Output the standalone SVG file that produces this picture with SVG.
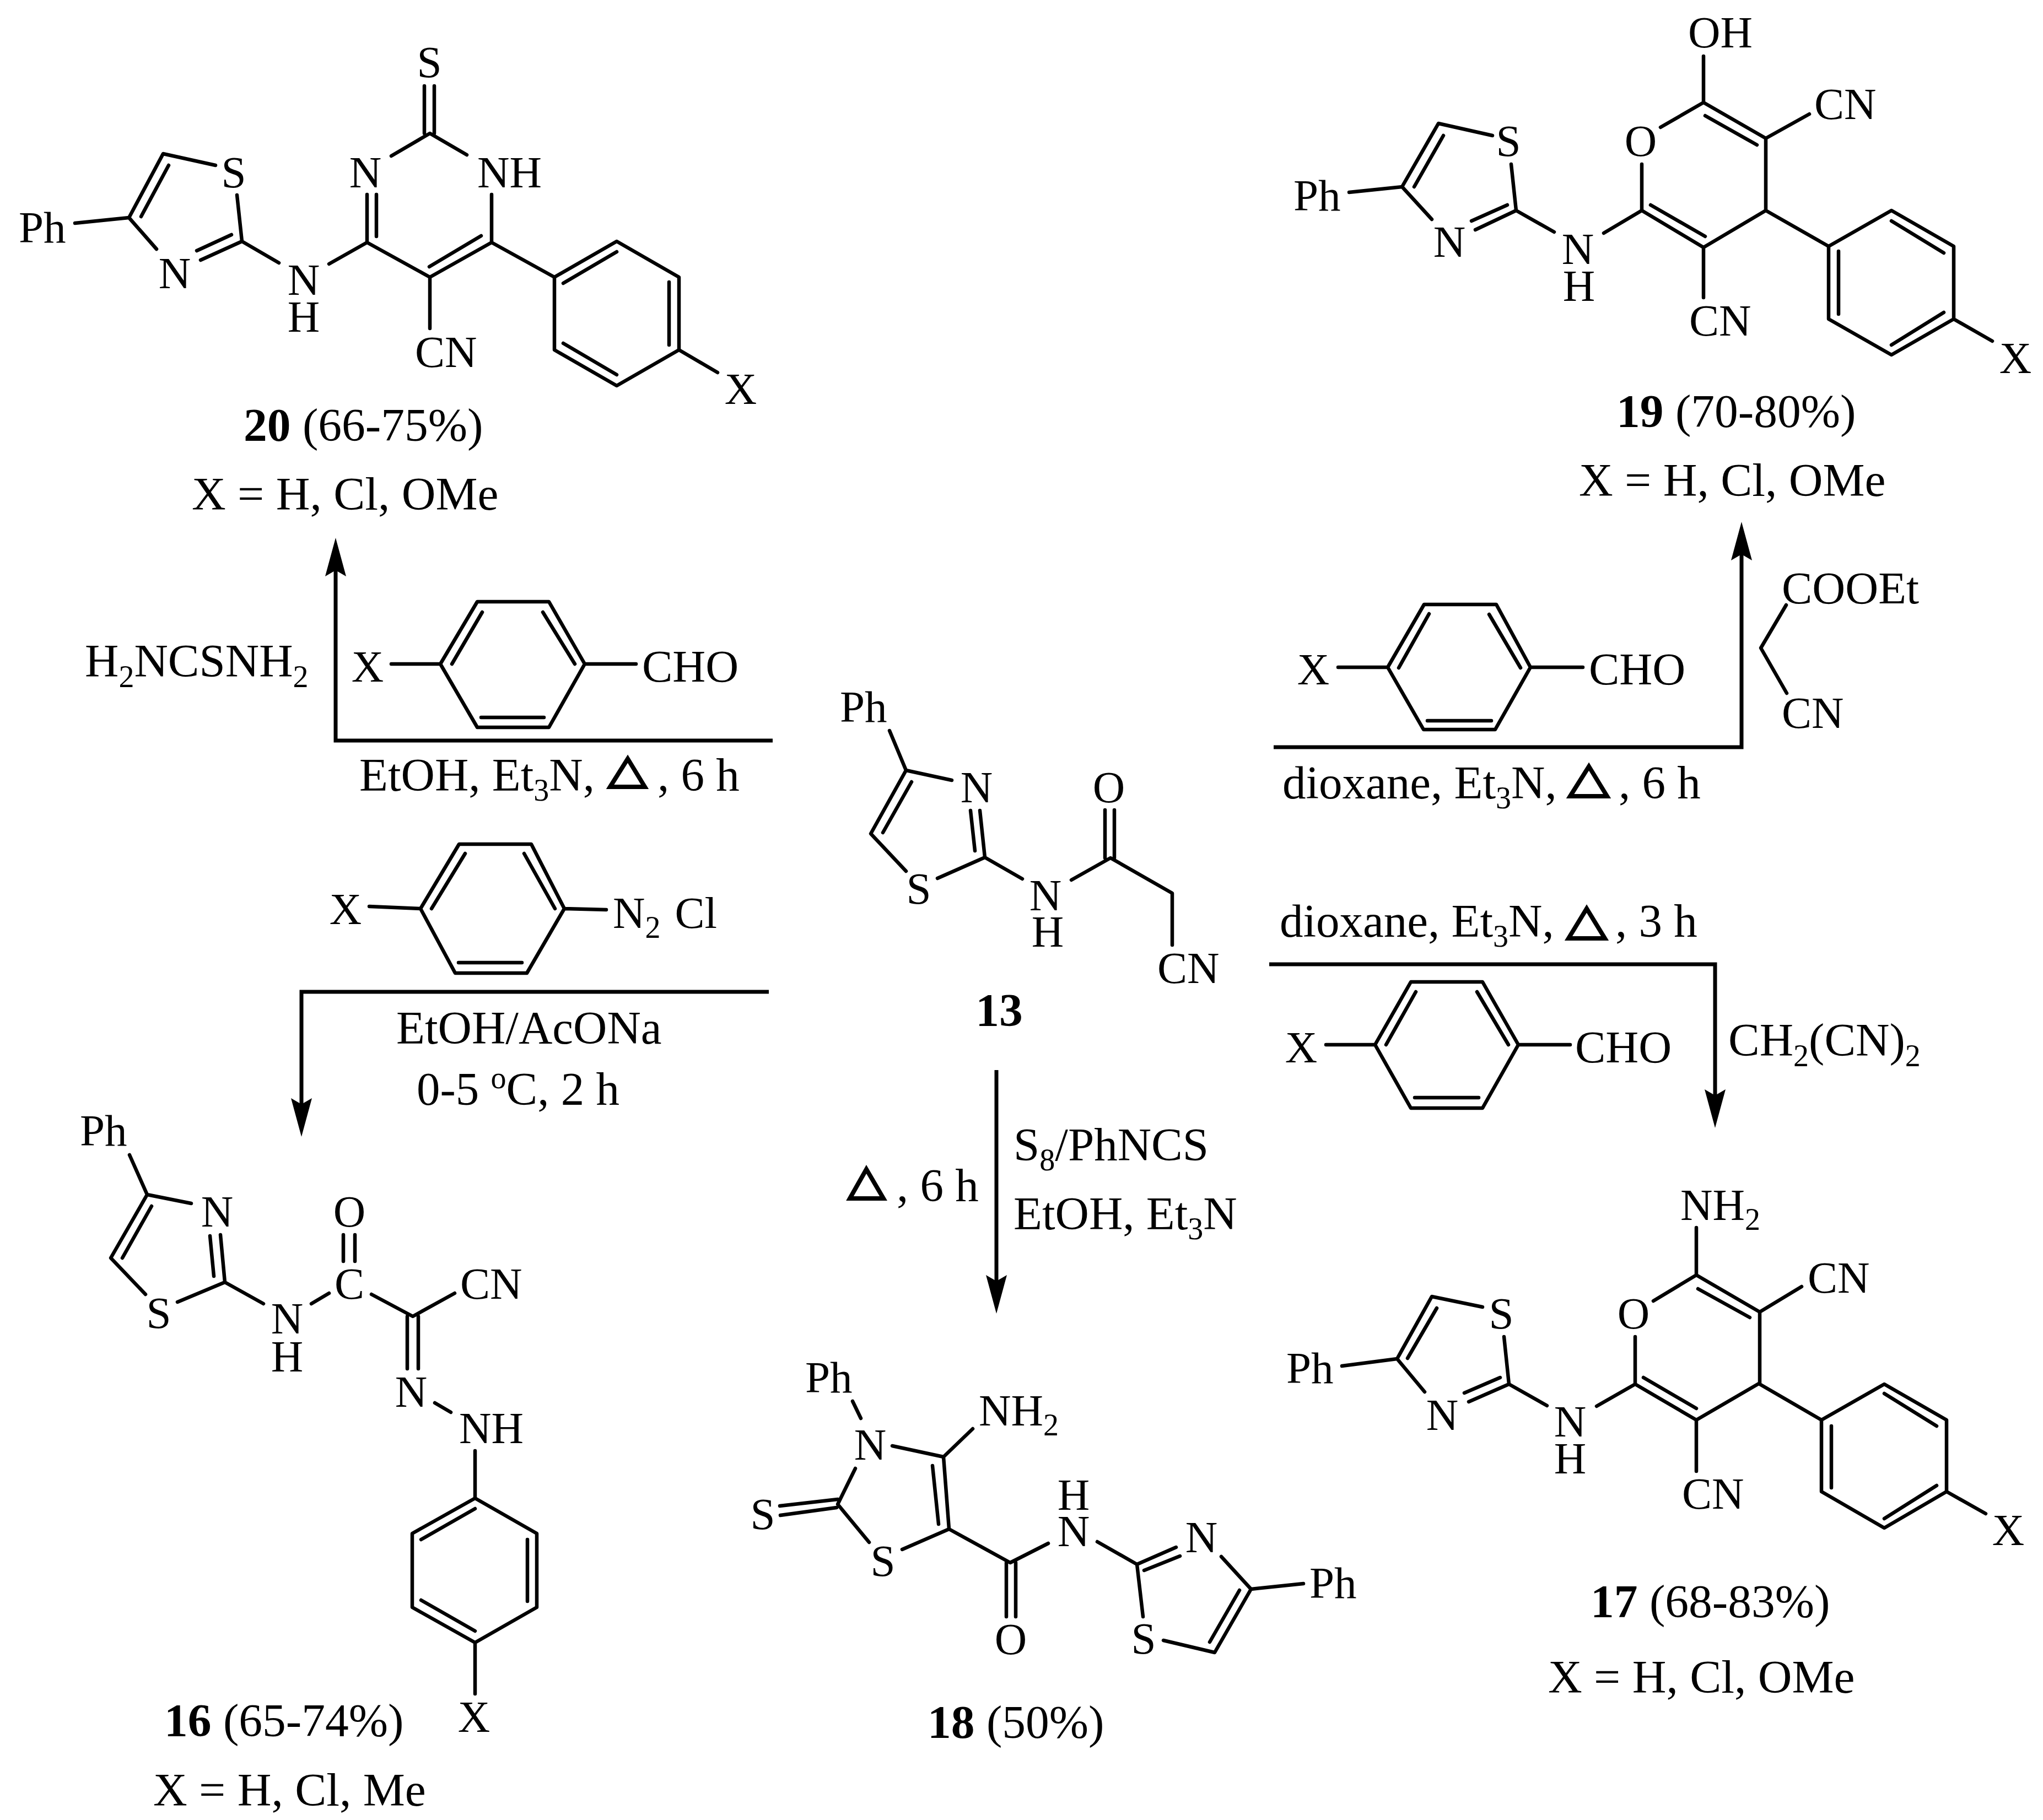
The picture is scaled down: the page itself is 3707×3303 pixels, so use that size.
<svg xmlns="http://www.w3.org/2000/svg" width="3707" height="3303" viewBox="0 0 3707 3303">
<style>
text{font-family:"Liberation Serif","Times New Roman",serif;fill:#000}
.a{font-size:81px}
.l{font-size:83px}
.c{font-size:85.5px}
.r{font-size:85px}
.m{text-anchor:middle}
.h{font-weight:bold}
.s{font-size:56px}
.b{fill:none;stroke:#000;stroke-width:6.5;stroke-linecap:round;stroke-linejoin:round}
.t{fill:none;stroke:#000;stroke-width:8;stroke-linejoin:miter}
.w{fill:none;stroke:#000;stroke-width:7;marker-end:url(#head)}
</style>
<defs>
<marker id="head" markerUnits="userSpaceOnUse" markerWidth="72" markerHeight="40" viewBox="0 0 72 40" refX="11" refY="20" orient="auto"><path d="M0 1L70 20L0 39L11 20Z" fill="#000"/></marker>
</defs>
<rect width="3707" height="3303" fill="#fff"/>
<g id="connectors">
<path class="w" d="M1402 1344H609V1035"/>
<path class="w" d="M2311 1356H3160V1006"/>
<path class="w" d="M1395 1800H547V2004"/>
<path class="w" d="M2303 1750H3112V1988"/>
<path class="w" d="M1808 1942V2325"/>
</g>
<g id="compound-20">
<path class="b" d="M391 300L296 279L234 395L284 452M306 300L256 393M136 405L234 395M430 354L439 438L506 477M420 426L357 455M439 438L364 472M597 479L666 440L780 503L892 440L892 353M666 440V353M683 429V353M779 484L873 428M710 283L780 242L847 281M770 242V156M788 242V156M780 503V596M892 440L1006 503M1006 503L1119 438L1232 503V635L1119 700L1006 635Z M1022 514L1119 457M1214 512V626M1022 623L1119 680M1232 635L1302 676"/>
<text class="a m" x="779" y="140">S</text><text class="a m" x="663" y="340">N</text><text class="a" x="866" y="340">NH</text><text class="a m" x="424" y="340">S</text><text class="a" x="34" y="440">Ph</text><text class="a m" x="317" y="523">N</text><text class="a m" x="551" y="535">N</text><text class="a m" x="551" y="602">H</text><text class="a" x="753" y="666">CN</text><text class="a m" x="1344" y="733">X</text>
<text class="c" x="442" y="800"><tspan class="h">20</tspan> (66-75%)</text><text class="c" x="348" y="925">X = H, Cl, OMe</text>
</g>
<g id="reagent-20">
<path class="b" d="M710 1205H799M799 1205L866 1092H996L1061 1205L996 1320H866Z M820 1205L875 1111M1043 1205L985 1111M873 1302H987M1061 1205H1154"/>
<text class="a m" x="667" y="1237">X</text><text class="l" x="1165" y="1237">CHO</text>
<text class="r" x="154" y="1228">H<tspan class="s" dy="19">2</tspan><tspan dy="-19">NCSNH</tspan><tspan class="s" dy="19">2</tspan></text>
<text class="r" x="652" y="1435">EtOH, Et<tspan class="s" dy="18">3</tspan><tspan dy="-18">N,</tspan></text>
<path class="t" d="M1107 1428L1139 1377L1170 1428Z"/>
<text class="r" x="1193" y="1435">, 6 h</text>
</g>
<g id="reagent-16">
<path class="b" d="M670 1645L763 1649M763 1649L833 1532H964L1024 1649L956 1766H826Z M783 1649L844 1549M1007 1649L951 1549M832 1747H947M1024 1649L1100 1651"/>
<text class="a m" x="627" y="1677">X</text><text class="a" x="1112" y="1684">N<tspan class="s" dy="18">2</tspan><tspan dy="-18" dx="26">Cl</tspan></text>
<text class="r" x="719" y="1894">EtOH/AcONa</text>
<text class="r" x="756" y="2005">0-5 <tspan class="s" dy="-30">o</tspan><tspan dy="30">C, 2 h</tspan></text>
</g>
<g id="compound-13">
<path class="b" d="M1614 1326L1644 1398L1727 1416M1644 1398L1580 1513L1644 1581M1654 1419L1602 1511M1701 1594L1787 1556L1778 1471M1769 1544L1761 1471M1787 1556L1855 1595M1944 1597L2015 1557L2127 1621V1715M2005 1557V1470M2022 1557V1470"/>
<text class="a" x="1524" y="1310">Ph</text><text class="a m" x="1772" y="1456">N</text><text class="a m" x="1667" y="1640">S</text><text class="a m" x="1897" y="1652">N</text><text class="a m" x="1901" y="1718">H</text><text class="a m" x="2012" y="1456">O</text><text class="a" x="2100" y="1784">CN</text>
<text class="c h m" x="1813" y="1862">13</text>
</g>
<g id="reagent-18">
<path class="t" d="M1542 2175L1572 2122L1603 2175Z"/>
<text class="r" x="1627" y="2180">, 6 h</text>
<text class="r" x="1839" y="2106">S<tspan class="s" dy="18">8</tspan><tspan dy="-18">/PhNCS</tspan></text>
<text class="r" x="1839" y="2231">EtOH, Et<tspan class="s" dy="18">3</tspan><tspan dy="-18">N</tspan></text>
</g>
<g id="compound-19">
<path class="b" d="M3091 102V186L3013 231M3091 186L3204 251L3283 207M3094 210L3188 263M3204 251V382L3091 449L2979 382V298M2995 372L3094 429M3091 449V540M2979 382L2910 423M2820 421L2751 382L2742 298M2735 372L2670 401M2751 382L2677 417M2708 246L2610 224L2544 339L2598 398M2619 246L2566 339M2448 349L2544 339M3204 382L3318 447M3318 447L3432 382L3545 447V579L3432 644L3318 579Z M3336 456V570M3432 401L3527 459M3432 626L3527 567M3545 579L3615 619"/>
<text class="a" x="3063" y="86">OH</text><text class="a m" x="2977" y="283">O</text><text class="a" x="3292" y="216">CN</text><text class="a" x="3065" y="609">CN</text><text class="a m" x="2863" y="479">N</text><text class="a m" x="2865" y="546">H</text><text class="a m" x="2737" y="283">S</text><text class="a m" x="2630" y="466">N</text><text class="a" x="2347" y="382">Ph</text><text class="a m" x="3657" y="677">X</text>
<text class="c" x="2933" y="775"><tspan class="h">19</tspan> (70-80%)</text><text class="c" x="2865" y="900">X = H, Cl, OMe</text>
</g>
<g id="reagent-19">
<path class="b" d="M2428 1211H2518M2518 1211L2584 1097H2715L2777 1211L2713 1324H2583Z M2538 1212L2593 1114M2759 1212L2702 1115M2590 1308H2706M2777 1211H2872M3241 1098L3195 1176L3242 1258"/>
<text class="a m" x="2383" y="1242">X</text><text class="l" x="2883" y="1242">CHO</text><text class="l" x="3233" y="1095">COOEt</text><text class="a" x="3233" y="1321">CN</text>
<text class="r" x="2327" y="1449">dioxane, Et<tspan class="s" dy="18">3</tspan><tspan dy="-18">N,</tspan></text>
<path class="t" d="M2849 1445L2883 1391L2916 1445Z"/>
<text class="r" x="2937" y="1449">, 6 h</text>
</g>
<g id="reagent-17">
<text class="r" x="2322" y="1700">dioxane, Et<tspan class="s" dy="18">3</tspan><tspan dy="-18">N,</tspan></text>
<path class="t" d="M2846 1703L2879 1649L2912 1703Z"/>
<text class="r" x="2931" y="1700">, 3 h</text>
<path class="b" d="M2406 1896H2495M2495 1896L2560 1782H2690L2755 1896L2690 2011H2560Z M2515 1896L2569 1800M2737 1896L2680 1800M2567 1992H2683M2755 1896H2849"/>
<text class="a m" x="2361" y="1928">X</text><text class="l" x="2858" y="1928">CHO</text>
<text class="r" x="3136" y="1916">CH<tspan class="s" dy="19">2</tspan><tspan dy="-19">(CN)</tspan><tspan class="s" dy="19">2</tspan></text>
</g>
<g id="compound-16">
<path class="b" d="M235 2096L267 2168L347 2184M267 2168L201 2283L264 2349M275 2189L222 2283M322 2363L408 2327L400 2241M388 2316L381 2243M408 2327L478 2366M565 2366L597 2347M623 2241V2289M644 2241V2289M674 2349L749 2389L825 2347M739 2389V2484M759 2389V2484M789 2546L818 2563M862 2633V2719M862 2719L974 2783V2917L862 2981L748 2917V2783Z M764 2794L862 2738M957 2794V2906M764 2904L862 2960M862 2981V3074"/>
<text class="a" x="145" y="2079">Ph</text><text class="a m" x="394" y="2226">N</text><text class="a m" x="288" y="2410">S</text><text class="a m" x="521" y="2420">N</text><text class="a m" x="521" y="2489">H</text><text class="a m" x="634" y="2357">C</text><text class="a m" x="634" y="2226">O</text><text class="a" x="835" y="2357">CN</text><text class="a m" x="746" y="2553">N</text><text class="a" x="833" y="2619">NH</text><text class="a m" x="860" y="3143">X</text>
<text class="c" x="298" y="3151"><tspan class="h">16</tspan> (65-74%)</text><text class="c" x="278" y="3277">X = H, Cl, Me</text>
</g>
<g id="compound-18">
<path class="b" d="M1547 2543L1562 2574M1619 2624L1712 2644L1765 2593M1712 2644L1722 2775L1637 2812M1692 2660L1703 2766M1577 2799L1520 2730L1552 2665M1520 2721L1415 2733M1518 2736L1416 2750M1722 2775L1833 2836L1902 2801M1826 2836V2934M1843 2836V2934M1991 2798L2063 2839L2134 2808M2076 2850L2141 2824M2063 2839L2074 2934M2216 2825L2270 2884L2365 2874M2270 2884L2204 2999L2111 2977M2249 2886L2195 2980"/>
<text class="a" x="1461" y="2527">Ph</text><text class="a m" x="1579" y="2649">N</text><text class="a" x="1776" y="2587">NH<tspan class="s" dy="18">2</tspan></text><text class="a m" x="1602" y="2860">S</text><text class="a m" x="1384" y="2775">S</text><text class="a m" x="1834" y="3002">O</text><text class="a m" x="1948" y="2806">N</text><text class="a m" x="1948" y="2740">H</text><text class="a m" x="2075" y="3001">S</text><text class="a m" x="2180" y="2817">N</text><text class="a" x="2376" y="2900">Ph</text>
<text class="c" x="1683" y="3154"><tspan class="h">18</tspan> (50%)</text>
</g>
<g id="compound-17">
<path class="b" d="M3078 2228V2314L3000 2361M3078 2314L3193 2381L3269 2335M3081 2339L3175 2391M3193 2381V2510L3078 2577L2967 2512V2426M2982 2500L3078 2556M3078 2577V2670M2967 2512L2897 2552M2807 2551L2738 2512L2729 2426M2722 2500L2657 2528M2738 2512L2665 2544M2690 2372L2598 2353L2535 2466L2585 2526M2607 2374L2554 2465M2435 2479L2535 2466M3193 2512L3305 2577M3305 2577L3419 2512L3532 2577V2707L3419 2773L3305 2707Z M3323 2588V2700M3419 2529L3514 2588M3419 2756L3514 2696M3532 2707L3603 2747"/>
<text class="a" x="3049" y="2214">NH<tspan class="s" dy="18">2</tspan></text><text class="a m" x="2964" y="2411">O</text><text class="a" x="3280" y="2346">CN</text><text class="a" x="3052" y="2738">CN</text><text class="a m" x="2849" y="2607">N</text><text class="a m" x="2849" y="2674">H</text><text class="a m" x="2724" y="2411">S</text><text class="a m" x="2617" y="2595">N</text><text class="a" x="2334" y="2510">Ph</text><text class="a m" x="3644" y="2804">X</text>
<text class="c" x="2886" y="2935"><tspan class="h">17</tspan> (68-83%)</text><text class="c" x="2809" y="3072">X = H, Cl, OMe</text>
</g>
</svg>
